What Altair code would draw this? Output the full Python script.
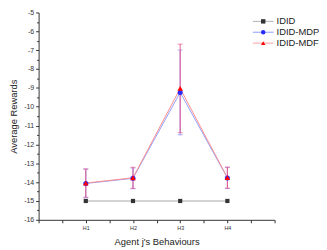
import altair as alt
import pandas as pd

behaviours = ["H1", "H2", "H3", "H4"]
xpos = [1, 2, 3, 4]
idid = [-15.0, -15.0, -15.0, -15.0]
mdp = [-14.07, -13.80, -9.24, -13.78]
mdp_err = [0.76, 0.55, 2.25, 0.56]
mdf = [-14.05, -13.77, -9.03, -13.76]
mdf_err = [0.75, 0.56, 2.35, 0.56]
series_names = ["IDID", "IDID-MDP", "IDID-MDF"]

rows = []
for i, x in enumerate(xpos):
    rows.append({"series": "IDID", "x": x, "y": idid[i], "lo": idid[i], "hi": idid[i]})
    rows.append({"series": "IDID-MDP", "x": x, "y": mdp[i], "lo": mdp[i] - mdp_err[i], "hi": mdp[i] + mdp_err[i]})
    rows.append({"series": "IDID-MDF", "x": x, "y": mdf[i], "lo": mdf[i] - mdf_err[i], "hi": mdf[i] + mdf_err[i]})
df = pd.DataFrame(rows)

label_map = "{" + ",".join(f"'{x}':'{b}'" for x, b in zip(xpos, behaviours)) + "}"

xscale = alt.Scale(domain=[0, 5], nice=False)
yscale = alt.Scale(domain=[-16, -5], nice=False)

xaxis = alt.Axis(
    values=[v / 2 for v in range(0, 11)],
    labelExpr=f"({label_map})[''+datum.value] || ''",
    title="Agent j's Behaviours",
    labelFontSize=5.5, labelColor="#333", labelFont="Liberation Sans",
    titleFontSize=9.5, titleFont="Liberation Sans", titleFontWeight="normal", titleColor="#222",
    titlePadding=5, tickSize=3, tickColor="#333", domainColor="#333", grid=False,
    labelPadding=3,
)
yaxis = alt.Axis(
    values=[-16 + v / 2 for v in range(0, 23)],
    labelExpr="datum.value % 1 === 0 ? ''+datum.value : ''",
    title="Average Rewards",
    labelFontSize=7, labelColor="#333", labelFont="Liberation Sans",
    titleFontSize=9.5, titleFont="Liberation Sans", titleFontWeight="normal", titleColor="#222",
    titlePadding=5,
    tickSize={"condition": {"test": "datum.value % 1 === 0", "value": 3}, "value": 2},
    tickColor="#333", domainColor="#333", grid=False, labelPadding=2,
)

base = alt.Chart(df)
X = alt.X("x:Q", scale=xscale, axis=xaxis)
Y = alt.Y("y:Q", scale=yscale, axis=yaxis)

def sub(name):
    return base.transform_filter(alt.datum.series == name)

layers = []
layers.append(sub("IDID").mark_line(color="#c4c4c4", strokeWidth=1.6).encode(x=X, y=Y))
for name, col in [("IDID-MDP", "#8a8aff"), ("IDID-MDF", "#e85a8a")]:
    s = sub(name)
    layers.append(s.mark_rule(color=col, strokeWidth=1).encode(x=X, y=alt.Y("lo:Q", scale=yscale, axis=yaxis), y2="hi:Q"))
    layers.append(s.mark_tick(color=col, orient="horizontal", size=5, thickness=1).encode(x=X, y=alt.Y("lo:Q", scale=yscale, axis=yaxis)))
    layers.append(s.mark_tick(color=col, orient="horizontal", size=5, thickness=1).encode(x=X, y=alt.Y("hi:Q", scale=yscale, axis=yaxis)))
layers.append(sub("IDID-MDP").mark_line(color="#90a0ff", strokeWidth=1).encode(x=X, y=Y))
layers.append(sub("IDID-MDF").mark_line(color="#ff8c8c", strokeWidth=1).encode(x=X, y=Y))
layers.append(sub("IDID").mark_point(shape="square", filled=True, color="#333333", size=18, opacity=1).encode(x=X, y=Y))
layers.append(sub("IDID-MDP").mark_point(shape="circle", filled=True, color="#2a2aff", size=26, opacity=1).encode(x=X, y=Y))
layers.append(sub("IDID-MDF").mark_point(shape="triangle-up", filled=True, color="#ff0000", size=32, opacity=1).encode(x=X, y=Y))

main = alt.layer(*layers)

# legend
leg_df = pd.DataFrame({"name": series_names, "order": [0, 1, 2]})
leg_line_colors = ["#b0b0b0", "#90a0ff", "#ffa0a0"]
leg_mark_colors = ["#333333", "#2a2aff", "#ff0000"]
leg_shapes = ["square", "circle", "triangle-up"]
LY = alt.Y("order:Q", scale=alt.Scale(domain=[0, 2], range=[9, 31]), axis=None)
lbase = alt.Chart(leg_df)
legend = alt.layer(
    lbase.mark_rule(strokeWidth=1).encode(
        x=alt.value(217), x2=alt.value(238), y=LY,
        color=alt.Color("name:N", scale=alt.Scale(domain=series_names, range=leg_line_colors), legend=None)),
    lbase.mark_point(filled=True, opacity=1, size=20).encode(
        x=alt.value(227.5), y=LY,
        color=alt.Color("name:N", scale=alt.Scale(domain=series_names, range=leg_mark_colors), legend=None),
        shape=alt.Shape("name:N", scale=alt.Scale(domain=series_names, range=leg_shapes), legend=None)),
    lbase.mark_text(align="left", baseline="middle", fontSize=9.5, font="Liberation Sans", color="#222").encode(
        x=alt.value(241), y=LY, text="name:N"),
).resolve_scale(color="independent")

chart = alt.layer(main, legend).resolve_scale(y="independent", color="independent", shape="independent").properties(
    width=239, height=210,
    padding={"left": 31, "top": 3, "right": 45, "bottom": 27},
    autosize="none",
).configure_view(stroke=None)

chart.save("out.html", embed_options={"renderer": "svg", "actions": False})
